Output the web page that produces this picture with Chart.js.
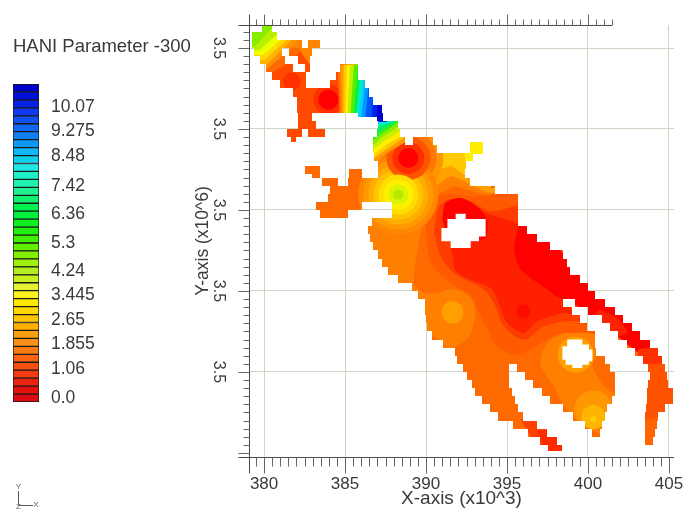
<!DOCTYPE html>
<html>
<head>
<meta charset="utf-8">
<style>
html,body{margin:0;padding:0;background:#fff;width:684px;height:510px;overflow:hidden}
canvas{position:absolute;left:0;top:0;display:block;filter:blur(0.7px)}
</style>
<script src="https://cdn.jsdelivr.net/npm/chart.js@4/dist/chart.umd.js"></script>
</head>
<body>
<canvas id="map" width="684" height="510"></canvas>
<canvas id="bar" width="195" height="510"></canvas>
<script>
// ---- colour bar ----
const legendTitle = 'HANI Parameter -300';
const legendLabels = ['0.0','1.06','1.855','2.65','3.445','4.24','5.3','6.36','7.42','8.48','9.275','10.07'];
const legendLevels = [0.54,4.15,7.23,10.32,13.46,16.5,20.04,23.6,27.17,30.94,34.09,37.14];
const legendCells = ['#dc0a14','#e2100f','#ea2410','#f03a10','#f45010','#f86410','#f87a10','#f89018','#f8a010','#ffb000','#ffc400','#ffd800','#ffe800','#fff020','#e4f030','#c8f020','#b4ee20','#a0f010','#84f000','#60f000','#40f000','#20f010','#10f020','#00f040','#00f050','#10f070','#20f090','#20f0b0','#20f0c8','#20e8e8','#10d0f0','#10b8f8','#1098f8','#1080f0','#1068f0','#1050f0','#1038f0','#0820e0','#0010d8','#0000cc'];

// ---- axes ----
const xLabelValues = [380,385,390,395,400,405];
const yLabelValues = [3480,3485,3490,3495,3500]; // x10^3, shown as x10^6

// ---- domain of the map: [yLow, yHigh, xStart, xEnd, xStart, xEnd ...] in km
const domainRows = [
[3501,3501.5,379.86,380.48],
[3500.5,3501,379.24,380.78],
[3500,3500.5,379.24,382.33,382.73,383.46],
[3499.5,3500,379.38,381.09,381.56,382.94],
[3499,3499.5,379.75,381.30,382.12,382.84],
[3498.5,3499,380.12,381.81,382.53,382.84,384.69,385.82],
[3498,3498.5,380.48,382.59,384.44,385.82],
[3497.5,3498,380.99,382.59,384.07,386.23],
[3497,3497.5,381.81,386.50],
[3496.5,3497,382.02,386.75],
[3496,3496.5,382.02,387.27],
[3495.75,3496,385.82,386.96],
[3495.5,3496,382.12,382.94,386.96,387.37],
[3495,3495.5,382.12,383.21,387.06,388.25],
[3494.5,3495,381.42,382.33,382.73,383.77,386.96,388.40],
[3494.2,3494.5,381.67,381.98],
[3494,3494.5,386.75,388.70,389.2,390.43],
[3493.5,3494,386.75,390.66],
[3493.46,3494.2,392.72,393.52],
[3493,3493.5,386.79,392.90],
[3492.5,3493,387.06,392.47],
[3492.24,3492.73,382.53,383.46],
[3492,3492.5,382.96,383.46,385.27,386.03,387.06,392.41],
[3491.5,3492,383.58,384.57,385.19,392.72],
[3491,3491.5,384.07,394.26],
[3490.5,3491,383.95,395.68],
[3490,3490.5,383.21,386.05,387.88,395.68],
[3489.5,3490,383.46,385.2,387.88,395.68],
[3489,3489.5,386.67,395.68],
[3488.5,3489,386.44,396.22],
[3488,3488.5,386.54,396.83],
[3487.5,3488,386.75,397.65],
[3487,3487.5,387.06,398.47],
[3486.5,3487,387.27,398.68],
[3486,3486.5,387.67,398.89],
[3485.5,3486,388.29,399.51],
[3485,3485.5,389.12,400.02],
[3484.5,3485,389.53,400.43],
[3484,3484.5,389.94,398.47,399.2,401.05],
[3483.5,3484,389.94,398.99,400.02,401.67],
[3483,3483.5,390.0,399.51,400.85,402.18],
[3482.5,3483,390.08,399.92,401.36,402.70],
[3482,3482.5,390.35,400.43,401.87,403.21],
[3481.5,3482,391.07,400.43,402.39,403.83],
[3481,3481.5,391.79,400.48,402.90,404.34],
[3480.5,3481,391.90,401.05,403.41,404.55],
[3480,3480.5,392.30,395.14,395.60,401.36,403.69,404.75],
[3479.5,3480,392.51,395.14,396.11,401.67,403.83,404.86],
[3479,3479.5,392.82,395.14,396.62,401.67,403.72,404.96],
[3478.5,3479,393.02,395.29,397.14,401.67,403.66,405.27],
[3478,3478.5,393.44,395.49,397.65,401.46,403.62,405.27],
[3477.5,3478,393.95,395.70,398.47,401.16,403.58,404.75],
[3477,3477.5,394.46,396.0,399.09,401.05,403.52,404.34],
[3476.5,3477,395.39,396.83,399.81,400.85,403.52,404.25],
[3476,3476.5,396.31,397.45,400.23,400.74,403.52,404.14],
[3475.5,3476,397.04,398.07,403.52,404.03],
[3475.14,3475.5,397.55,398.38]
];

// ---- contour bands: outlines as [x, y] in km ----
const bandBase = [[379,3474],[406,3474],[406,3502],[379,3502]];
const bandNorthEast = [[389.42,3494.75],[392.3,3494.75],[392.3,3490.02],[389.42,3490.02]];
const bandWest = [[385.35,3490.02],[389.77,3490.02],[389.57,3488.17],[389.26,3485.49],[389.98,3484.84],[391.52,3484.98],[392.55,3484.47],[393.0,3483.54],[392.65,3482.2],[391.52,3481.42],[390.7,3482.0],[389.67,3483.02],[387.41,3485.49],[385.76,3488.79]];
const bandTop = [[390.6,3494.75],[393.99,3494.75],[393.99,3491.36],[393.17,3491.67],[392.45,3492.08],[391.52,3492.7],[390.49,3492.29]];
const bandKnob = [[392.24,3494.34],[393.79,3494.34],[393.79,3492.9],[392.45,3492.9]];
const contourA = [[390.49,3492.29],[391.52,3492.7],[392.45,3492.08],[393.17,3491.67],[393.99,3491.36],[396.26,3491.6],[396.26,3489.81],[390.19,3489.81]];
const contourB = [[390.6,3491.46],[391.52,3492.08],[392.35,3491.77],[393.17,3491.36],[394.2,3491.05],[396.26,3491.5],[396.26,3489.81],[390.19,3489.81]];
const contourC = [[390.74,3490.95],[391.73,3491.46],[392.55,3491.26],[393.79,3490.95],[396.26,3491.4],[396.26,3489.81],[390.19,3489.81]];
const contourD = [[389.98,3488.99],[390.29,3486.73],[391.52,3485.49],[392.76,3484.67],[393.58,3483.02],[394.40,3481.58],[395.43,3481.07],[396.46,3481.38],[397.49,3482.0],[398.52,3482.41],[400.37,3482.3],[400.99,3484.67],[398.11,3486.11],[396.46,3489.2],[396.26,3491.2],[393.99,3490.9],[392.76,3490.84],[391.73,3490.95],[390.6,3490.84],[390.19,3489.81]];
const contourE = [[390.49,3488.58],[390.91,3487.14],[391.73,3486.11],[393.58,3485.08],[394.2,3484.26],[394.81,3482.82],[396.05,3482.0],[397.28,3482.82],[398.72,3483.13],[399.75,3483.02],[400.58,3482.41],[400.99,3484.67],[398.11,3486.11],[396.46,3490.4],[395.74,3490.3],[393.99,3489.92],[392.76,3490.53],[391.52,3490.68],[390.8,3490.23],[390.6,3489.4]];
const contourF = [[391.32,3489.2],[391.63,3487.14],[391.93,3486.11],[393.99,3485.18],[394.4,3484.47],[395.02,3483.02],[396.05,3482.41],[396.87,3483.13],[398.52,3483.64],[399.14,3483.54],[398.21,3484.67],[396.87,3486.11],[396.05,3488.79],[395.64,3489.2],[393.99,3489.71],[392.76,3490.23],[391.93,3490.43],[391.21,3490.12]];
const contourHole = [[391.0,3489.4],[391.21,3490.43],[392.14,3490.74],[393.27,3490.12],[393.79,3489.3],[393.58,3488.17],[391.52,3488.17]];
const contourArm = [[395.74,3489.2],[395.43,3487.55],[395.84,3486.32],[397.49,3485.08],[398.21,3484.57],[399.24,3484.16],[400.58,3483.13],[401.81,3482.2],[403.46,3480.97],[404.69,3480.97],[403.87,3482.61],[401.81,3484.26],[399.75,3485.91],[397.7,3488.17],[396.26,3489.4]];
const armPatch = [[400.68,3483.85],[401.81,3483.33],[402.43,3482.41],[401.6,3482.2],[400.37,3483.33]];
const armBend = [[403.05,3481.38],[404.49,3481.58],[405.1,3480.35],[403.25,3480.35]];
const armLow = [[403.46,3480.45],[405.1,3480.56],[405.72,3478.5],[405.1,3476.85],[404.49,3475.2],[403.25,3475.2],[403.25,3478.08]];
const armFoot = [[403.25,3477.06],[404.59,3477.16],[404.38,3475.2],[403.25,3475.2]];
const legTip = [[395.84,3477.06],[396.46,3477.26],[398.93,3475.62],[398.93,3474.8],[397.08,3475.0]];
const legEnd = [[396.87,3476.34],[397.7,3476.44],[398.72,3475.62],[398.72,3474.8],[397.49,3474.9]];
const bandSouthEast = [[398.52,3482.41],[397.7,3482.0],[397.18,3481.17],[397.08,3480.35],[397.9,3479.11],[398.52,3477.88],[399.55,3476.85],[400.99,3476.23],[402.02,3478.5],[401.19,3478.9],[400.27,3480.35],[400.68,3481.38],[400.47,3482.3]];
const bandNorthWest = [[378.93,3501.75],[384.69,3501.75],[384.69,3495.37],[384.07,3494.13],[381.19,3494.13],[378.93,3500.31]];
const nw1 = [[382.53,3501.95],[382.53,3500.1],[381.5,3499.07],[380.27,3498.35],[378.72,3498.35],[378.72,3501.95]];
const nwLobe = [[381.4,3500.62],[383.66,3500.62],[383.66,3499.28],[382.84,3498.97],[382.53,3499.38],[382.12,3500.0],[381.6,3500.1]];
const nw2 = [[382.02,3501.95],[382.02,3500.31],[380.2,3498.7],[378.72,3498.7],[378.72,3501.95]];
const nw3 = [[381.64,3501.95],[381.64,3500.41],[380.16,3498.97],[378.72,3498.97],[378.72,3501.95]];
const nw4 = [[381.4,3501.95],[381.4,3500.51],[380.06,3499.28],[378.72,3499.28],[378.72,3501.95]];
const nw5 = [[381.15,3501.95],[381.15,3500.62],[379.96,3499.59],[378.72,3499.59],[378.72,3501.95]];
const nw6 = [[380.9,3501.95],[380.9,3500.93],[379.71,3499.86],[378.72,3499.86],[378.72,3501.95]];
const nw7 = [[380.62,3501.95],[380.62,3501.34],[379.44,3500.1],[378.72,3500.0],[378.72,3501.95]];
const strait1 = [[386.64,3492.8],[387.78,3493.62],[388.81,3494.24],[388.81,3495.58],[386.64,3495.58]];
const strait2 = [[386.64,3493.07],[387.78,3493.89],[388.6,3494.44],[388.6,3495.58],[386.64,3495.58]];
const strait3 = [[386.64,3493.31],[387.57,3494.03],[388.5,3494.59],[388.5,3495.58],[386.64,3495.58]];
const strait4 = [[386.64,3493.62],[387.47,3494.3],[388.39,3494.86],[388.39,3495.58],[386.64,3495.58]];
const strait5 = [[386.64,3493.93],[387.37,3494.55],[388.29,3495.12],[388.39,3495.58],[386.64,3495.58]];
const strait6 = [[386.64,3494.24],[387.37,3494.79],[388.29,3495.41],[388.39,3495.58],[386.64,3495.58]];
const strait7 = [[386.64,3494.65],[387.47,3495.06],[388.19,3495.47],[386.64,3495.58]];
const strait8 = [[386.95,3495.16],[387.78,3495.37],[388.09,3495.58],[386.64,3495.58],[386.64,3494.96]];
const strait9 = [[386.64,3495.27],[387.57,3495.47],[387.67,3495.58],[386.64,3495.58]];
const lump1 = [[384.53,3498.97],[384.69,3495.47],[387.57,3495.47],[387.57,3498.97]];
const lump2 = [[384.69,3498.97],[384.79,3495.47],[387.57,3495.47],[387.57,3498.97]];
const lump3 = [[384.9,3498.97],[384.9,3495.47],[387.57,3495.47],[387.57,3498.97]];
const lump4 = [[385.1,3498.97],[385.0,3495.47],[387.57,3495.47],[387.57,3498.97]];
const lump5 = [[385.31,3498.97],[385.14,3495.47],[387.57,3495.47],[387.57,3498.97]];
const lump6 = [[385.55,3498.97],[385.31,3495.47],[387.57,3495.47],[387.57,3498.97]];
const lump7 = [[385.82,3498.97],[385.47,3495.47],[387.57,3495.47],[387.57,3498.97]];
const lump8 = [[386.03,3498.97],[385.64,3495.47],[387.57,3495.47],[387.57,3498.97]];
const lump9 = [[386.23,3498.97],[385.8,3495.47],[387.57,3495.47],[387.57,3498.97]];
const lump10 = [[386.4,3498.97],[385.97,3495.47],[387.57,3495.47],[387.57,3498.97]];
const lump11 = [[386.58,3498.97],[386.23,3495.47],[387.57,3495.47],[387.57,3498.97]];
const lump12 = [[386.85,3498.97],[386.64,3495.47],[387.57,3495.47],[387.57,3498.97]];
const lump13 = [[387.12,3498.97],[386.95,3495.47],[387.57,3495.47],[387.57,3498.97]];
const hole1 = [[391.83,3489.77],[392.45,3489.77],[392.45,3489.44],[393.68,3489.44],[393.68,3488.37],[393.27,3488.37],[393.27,3488.07],[392.76,3488.07],[392.76,3487.65],[391.52,3487.65],[391.52,3488.07],[390.95,3488.07],[390.95,3488.89],[391.32,3488.89],[391.32,3489.44],[391.83,3489.44]];
const hole2 = [[398.72,3482.0],[399.65,3482.0],[399.65,3481.69],[400.06,3481.69],[400.06,3481.38],[400.27,3481.38],[400.27,3480.66],[400.06,3480.66],[400.06,3480.45],[399.65,3480.45],[399.65,3480.25],[399.03,3480.25],[399.03,3480.45],[398.62,3480.45],[398.62,3480.76],[398.42,3480.76],[398.42,3481.58],[398.72,3481.58]];

// ---- closed contours around local extremes: x, y (km), r ----
const ringsWest = [[391.63,3483.68,23],[391.63,3483.68,11]];
const ringsHoleEast = [[399.24,3481.07,18]];
const ringsSouth = [[400.33,3477.67,19],[400.33,3477.22,12],[400.33,3477.06,3]];
const ringsRedOuter = [[388.91,3493.21,35],[388.91,3493.21,28]];
const ringsYellowOuter = [[388.29,3490.95,40],[388.29,3490.95,35],[388.29,3490.95,30],[388.29,3490.95,25]];
const ringsRedInner = [[388.91,3493.21,22],[388.91,3493.21,16],[388.91,3493.21,10]];
const ringsYellowInner = [[388.29,3490.95,20],[388.29,3490.95,15],[388.29,3490.95,10],[388.29,3490.95,5]];
const ringsCentre = [[396.01,3483.75,7]];
const ringsNW = [[381.71,3497.94,9]];
const ringsLump = [[383.97,3496.81,15],[383.97,3496.81,10]];

// painting order, lowest first
const layers = [
 [bandBase,'#ff6a00',0],[bandNorthEast,'#ff9000',0],[bandWest,'#ff8000',.3],
 [ringsWest,['#ff8000','#ffa000']],
 [bandTop,'#ffc800',0],[bandKnob,'#ffec00',0],
 [contourA,'#ffa000',.2],[contourB,'#ff8000',.2],[contourC,'#ff6800',.2],
 [contourD,'#ff5a00',.3],[contourE,'#ff3c00',.3],[contourF,'#ff2000',.3],[contourHole,'#ff0000',.3],[contourArm,'#ff0000',.2],
 [armPatch,'#ff2200',.2],[armBend,'#ff3000',0],[armLow,'#ff5200',0],[armFoot,'#ff6400',0],[legTip,'#ff4000',0],[legEnd,'#ff2a00',0],
 [bandSouthEast,'#ff8000',.3],
 [ringsHoleEast,['#ffa000']],[ringsSouth,['#ff9800','#ffb400','#ffcc00']],
 [ringsRedOuter,['#ff9500','#ff7700']],
 [ringsYellowOuter,['#ff8800','#ff9900','#ffad00','#ffc400']],
 [ringsRedInner,['#ff5500','#ff3000','#ff0000']],
 [ringsYellowInner,['#ffdd00','#fff000','#d8f500','#b8e800']],
 [ringsCentre,['#ff0c00']],
 [bandNorthWest,'#ff4a00',0],[ringsNW,['#ff3000']],
 [nw1,'#ff6a00',0],[nwLobe,'#ff8400',0],[nw2,'#ff9000',0],[nw3,'#ffb400',0],[nw4,'#ffd800',0],[nw5,'#eeff00',0],[nw6,'#b8f000',0],[nw7,'#88ee00',0],
 [strait1,'#ff9900',0],[strait2,'#ffc800',0],[strait3,'#ffee00',0],[strait4,'#c8f000',0],[strait5,'#88ee00',0],[strait6,'#33ee22',0],[strait7,'#00ee66',0],[strait8,'#00eecc',0],[strait9,'#33ccff',0],
 [ringsLump,['#ff3000','#ff0000']],
 [lump1,'#ff7000',0],[lump2,'#ff9800',0],[lump3,'#ffc800',0],[lump4,'#ffee00',0],[lump5,'#bff000',0],[lump6,'#55ee00',0],[lump7,'#00ee55',0],[lump8,'#00eebb',0],[lump9,'#00ccff',0],[lump10,'#0099ff',0],[lump11,'#0055ff',0],[lump12,'#0022ee',0],[lump13,'#0000cc',0],
 [hole1,'#ffffff',0],[hole2,'#ffffff',0]
];

const datasets = [];
layers.forEach(([pts,col,tension])=>{
  if (Array.isArray(col)) {
    pts.forEach((p,k)=>datasets.push({type:'bubble',data:[{x:p[0],y:p[1],r:p[2]}],backgroundColor:col[k],borderWidth:0,hoverRadius:0,order:-datasets.length}));
  } else {
    const closed = pts.concat([pts[0]]).map(p=>({x:p[0],y:p[1]}));
    datasets.push({type:'scatter',showLine:true,data:closed,fill:'shape',backgroundColor:col,borderWidth:0,borderColor:col,pointRadius:0,tension:tension,order:-datasets.length});
  }
});

const clipToDomain = {
  id:'clipToDomain',
  beforeDatasetsDraw(chart){
    const {ctx,scales:{x,y}} = chart;
    ctx.save();
    ctx.beginPath();
    domainRows.forEach(r=>{
      const top = Math.round(y.getPixelForValue(r[1])), bot = Math.round(y.getPixelForValue(r[0]));
      for (let i=2;i<r.length;i+=2){
        const a = Math.round(x.getPixelForValue(r[i])), b = Math.round(x.getPixelForValue(r[i+1]));
        ctx.rect(a,top,b-a,bot-top);
      }
    });
    ctx.clip();
  },
  afterDatasetsDraw(chart){ chart.ctx.restore(); }
};

const axisFurniture = {
  id:'axisFurniture',
  afterDatasetsDraw(chart){
    const {ctx,scales:{x,y},chartArea:a} = chart;
    const line = (x1,y1,x2,y2)=>{ctx.beginPath();ctx.moveTo(x1,y1);ctx.lineTo(x2,y2);ctx.stroke();};
    ctx.save();
    ctx.strokeStyle='#4a4a4a';ctx.lineWidth=1;
    const topEnd = x.getPixelForValue(401.5);
    const L=a.left+.5,T=a.top+.5,B=a.bottom+.5;
    line(L,T-11,L,B);
    line(L-11,T,topEnd,T);
    line(L-11,B,a.right,B);
    line(L,B,L,B+16);
    ctx.strokeStyle='#666';
    for(let v=379.5;v<=405.01;v+=.5){
      const p=Math.round(x.getPixelForValue(v))+.5, major=Number.isInteger(v/5);
      line(p,B,p,B+(major?16:9));
      if(v<=401.5) line(p,T,p,T-(major?11:6));
    }
    for(let v=3475;v<=3501.01;v+=.5){
      const p=Math.round(y.getPixelForValue(v))+.5, major=Number.isInteger(v/5);
      line(L,p,L-(major?11:6),p);
    }
    ctx.restore();
  }
};

const inkText='#3a3a3a', sans='"Liberation Sans", Arial, sans-serif';
new Chart(document.getElementById('map'),{
  type:'scatter',
  data:{datasets},
  options:{
    responsive:false,animation:false,events:[],
    layout:{autoPadding:false,padding:{left:192.5,right:10,top:25,bottom:0}},
    plugins:{legend:{display:false},tooltip:{enabled:false},title:{display:false}},
    scales:{
      x:{type:'linear',min:379.07,max:405.31,
        afterFit(s){s.height=53;s.paddingLeft=0;s.paddingRight=0;},
        afterBuildTicks(s){s.ticks=xLabelValues.map(v=>({value:v}));},
        border:{display:false},
        grid:{color:'#c9d8c4',lineWidth:1,drawTicks:false},
        ticks:{autoSkip:false,maxRotation:0,minRotation:0,padding:17,color:inkText,font:{family:sans,size:17},callback:v=>String(v)},
        title:{display:true,text:'X-axis (x10^3)',color:inkText,font:{family:sans,size:19},padding:{top:0,bottom:0}}
      },
      y:{type:'linear',min:3474.75,max:3501.42,
        afterFit(s){s.width=56.5;s.paddingTop=0;s.paddingBottom=0;},
        afterBuildTicks(s){s.ticks=yLabelValues.map(v=>({value:v}));},
        border:{display:false},
        grid:{color:'#c9d8c4',lineWidth:1,drawTicks:false},
        ticks:{autoSkip:false,minRotation:-90,maxRotation:-90,crossAlign:'center',padding:19,color:inkText,font:{family:sans,size:16},callback:v=>(v/1000).toFixed(1)},
        title:{display:true,text:'Y-axis (x10^6)',color:inkText,font:{family:sans,size:17.5},padding:{top:0,bottom:0}}
      }
    }
  },
  plugins:[clipToDomain,axisFurniture]
});

const triad = {
  id:'triad',
  afterDraw(chart){
    const ctx=chart.ctx;
    ctx.save();
    ctx.strokeStyle='#555';ctx.fillStyle='#666';ctx.lineWidth=1;
    ctx.beginPath();ctx.moveTo(18.5,491);ctx.lineTo(18.5,505);ctx.moveTo(18.5,505.5);ctx.lineTo(33,505.5);ctx.stroke();
    ctx.font='8px '+sans;ctx.textAlign='center';ctx.textBaseline='middle';
    ctx.fillText('Y',18.5,487);ctx.fillText('X',36,505);ctx.fillText('Z',18.5,507);
    ctx.restore();
  }
};

new Chart(document.getElementById('bar'),{
  type:'bar',
  data:{labels:['levels'],datasets:legendCells.map(c=>({data:[1],backgroundColor:c,borderColor:'#1a1a1a',borderWidth:1,borderSkipped:false,barPercentage:1,categoryPercentage:1,stack:'s'}))},
  options:{
    responsive:false,animation:false,events:[],
    layout:{autoPadding:false,padding:{left:13,right:0,top:0,bottom:108}},
    plugins:{legend:{display:false},tooltip:{enabled:false},
      title:{display:true,text:legendTitle,align:'start',color:inkText,font:{family:sans,size:18.5,weight:'normal',lineHeight:1.2},padding:{top:36,bottom:25.8}}},
    scales:{
      x:{display:false,stacked:true},
      y:{stacked:true,position:'right',min:0,max:40,
        afterFit(s){s.width=156;},
        afterBuildTicks(s){s.ticks=legendLevels.map(v=>({value:v}));},
        border:{display:false},grid:{display:false,drawTicks:false},
        ticks:{autoSkip:false,padding:12,color:inkText,font:{family:sans,size:17.5},callback:(v,i)=>legendLabels[i]}
      }
    }
  },
  plugins:[triad]
});
</script>
</body>
</html>
